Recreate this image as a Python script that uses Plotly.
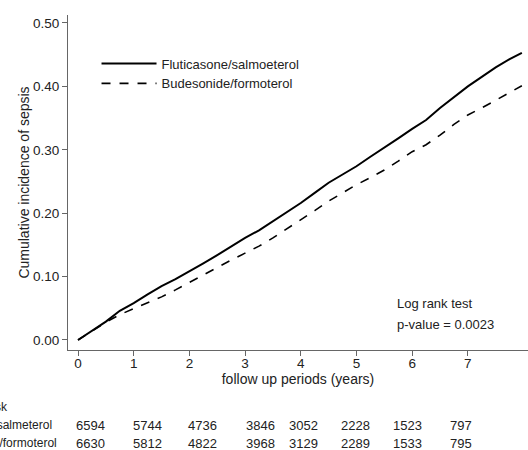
import plotly.graph_objects as go

# Follow-up time (years)
years = [0, 0.25, 0.5, 0.75, 1.0, 1.25, 1.5, 1.75, 2.0, 2.25, 2.5, 2.75, 3.0, 3.25, 3.5,
         3.75, 4.0, 4.25, 4.5, 4.75, 5.0, 5.25, 5.5, 5.75, 6.0, 6.25, 6.5, 6.75, 7.0,
         7.25, 7.5, 7.75, 7.97]
# Cumulative incidence of sepsis
fluticasone = [0, 0.015, 0.029, 0.046, 0.058, 0.072, 0.085, 0.096, 0.108, 0.121, 0.134,
               0.148, 0.161, 0.173, 0.187, 0.201, 0.216, 0.232, 0.248, 0.261, 0.274,
               0.289, 0.303, 0.318, 0.333, 0.347, 0.366, 0.383, 0.400, 0.415, 0.430,
               0.443, 0.453]
budesonide = [0, 0.014, 0.028, 0.040, 0.049, 0.058, 0.068, 0.079, 0.091, 0.1025, 0.114,
              0.126, 0.137, 0.148, 0.161, 0.175, 0.189, 0.204, 0.219, 0.232, 0.245,
              0.256, 0.268, 0.282, 0.297, 0.308, 0.323, 0.340, 0.355, 0.366, 0.378,
              0.390, 0.401]

series_names = ["Fluticasone/salmoeterol", "Budesonide/formoterol"]
table_labels = ["Fluticasone/salmeterol", "Budesonide/formoterol"]
risk_fluticasone = [6594, 5744, 4736, 3846, 3052, 2228, 1523, 797]
risk_budesonide = [6630, 5812, 4822, 3968, 3129, 2289, 1533, 795]
x_ticks = [0, 1, 2, 3, 4, 5, 6, 7]
y_ticks = [0.0, 0.1, 0.2, 0.3, 0.4, 0.5]

# layout helpers (positions of risk-table columns in data x units)
risk_cols = [0.22, 1.24, 2.24, 3.27, 4.04, 4.99, 5.92, 6.88]

fig = go.Figure()
fig.add_trace(go.Scatter(x=years, y=fluticasone, mode="lines", name=series_names[0],
                         line=dict(color="black", width=2)))
fig.add_trace(go.Scatter(x=years, y=budesonide, mode="lines", name=series_names[1],
                         line=dict(color="black", width=1.6, dash="dash")))

font = "Liberation Sans, Arial, sans-serif"
ann = []
ann.append(dict(text="Log rank test", xref="paper", yref="paper", x=0.71, y=0.140,
                xanchor="left", yanchor="middle", showarrow=False,
                font=dict(size=13, color="#222", family=font)))
ann.append(dict(text="p-value = 0.0023", xref="paper", yref="paper", x=0.71, y=0.075,
                xanchor="left", yanchor="middle", showarrow=False,
                font=dict(size=13, color="#222", family=font)))
ann.append(dict(text="Number at risk", xref="paper", yref="paper", x=-0.126, y=-0.170,
                xanchor="right", yanchor="middle", showarrow=False,
                font=dict(size=12, color="#222", family=font)))
ann.append(dict(text=table_labels[0], xref="paper", yref="paper", x=-0.030, y=-0.224,
                xanchor="right", yanchor="middle", showarrow=False,
                font=dict(size=12, color="#222", family=font)))
ann.append(dict(text=table_labels[1], xref="paper", yref="paper", x=-0.019, y=-0.278,
                xanchor="right", yanchor="middle", showarrow=False,
                font=dict(size=12, color="#222", family=font)))
for xc, a, b in zip(risk_cols, risk_fluticasone, risk_budesonide):
    ann.append(dict(text=str(a), xref="x", yref="paper", x=xc, y=-0.224,
                    xanchor="center", yanchor="middle", showarrow=False,
                    font=dict(size=13, color="#222", family=font)))
    ann.append(dict(text=str(b), xref="x", yref="paper", x=xc, y=-0.278,
                    xanchor="center", yanchor="middle", showarrow=False,
                    font=dict(size=13, color="#222", family=font)))

fig.update_layout(
    width=528, height=450,
    margin=dict(l=68, r=0, t=15, b=100, autoexpand=False),
    paper_bgcolor="white", plot_bgcolor="white",
    font=dict(family=font, size=13, color="#222"),
    showlegend=True,
    legend=dict(x=0.062, y=0.9, xanchor="left", yanchor="top",
                bgcolor="rgba(0,0,0,0)", font=dict(size=13, color="#222"),
                itemwidth=55, tracegroupgap=0),
    annotations=ann,
    xaxis=dict(range=[-0.18, 8.08], tickvals=x_ticks, ticktext=[str(v) for v in x_ticks],
               showgrid=False, zeroline=False, showline=True, linecolor="#666",
               linewidth=1, ticks="outside", ticklen=5, tickcolor="#666",
               automargin=False, tickfont=dict(size=13.5), ticklabelstandoff=-4,
               title=dict(text="follow up periods (years)", standoff=0,
                          font=dict(size=14, color="#222"))),
    yaxis=dict(range=[-0.0158, 0.5126], tickvals=y_ticks,
               ticktext=["%.2f" % v for v in y_ticks],
               showgrid=False, zeroline=False, showline=True, linecolor="#666",
               linewidth=1, ticks="outside", ticklen=5, tickcolor="#666",
               automargin=False, tickfont=dict(size=13.5),
               title=dict(text="Cumulative incidence of sepsis", standoff=0,
                          font=dict(size=14, color="#222"))),
)

fig.write_html("out.html", config={"displayModeBar": False},
               post_script="document.body.style.margin='0';document.body.style.overflow='hidden';")
